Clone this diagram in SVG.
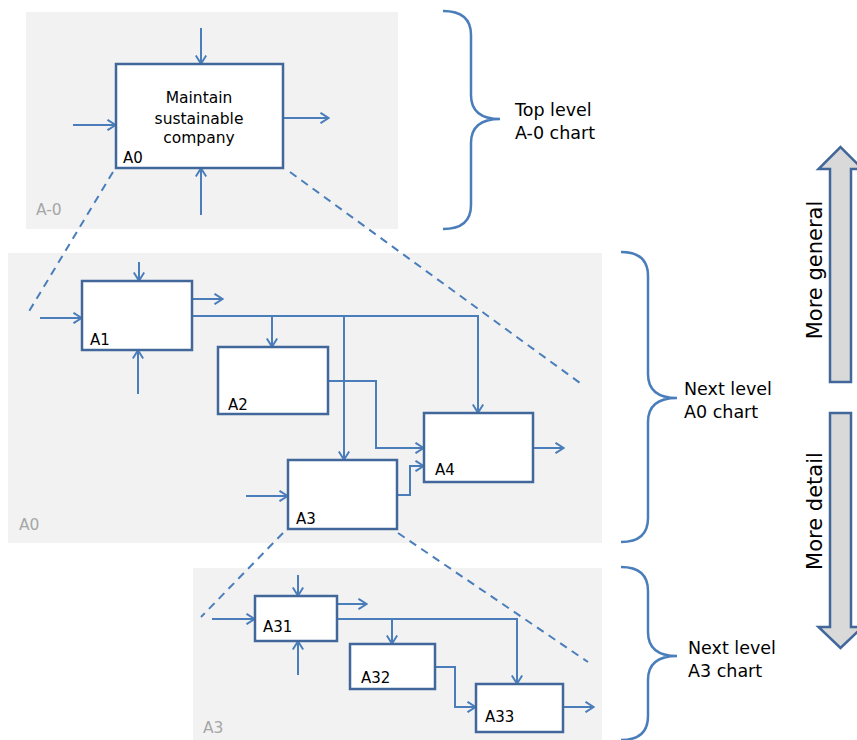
<svg xmlns="http://www.w3.org/2000/svg" width="857" height="740" viewBox="0 0 857 740">
  <style>
    .panel { fill: #f2f2f2; }
    .box { fill: #ffffff; stroke: #41679b; stroke-width: 2.5; }
    .conn { fill: none; stroke: #4a7ebb; stroke-width: 2; }
    .arr { marker-end: url(#head); }
    .dash { fill: none; stroke: #4a7ebb; stroke-width: 2; stroke-dasharray: 8 6; }
    .brace { fill: none; stroke: #4a7ebb; stroke-width: 2.5; }
    .lbl { font-family: "DejaVu Sans", Verdana, sans-serif; font-size: 15px; fill: #000000; }
    .title { font-family: "DejaVu Sans", Verdana, sans-serif; font-size: 15.5px; fill: #000000; text-anchor: middle; }
    .plbl { font-family: "DejaVu Sans", Verdana, sans-serif; font-size: 15.5px; fill: #a6a6a6; }
    .side { font-family: "DejaVu Sans", Verdana, sans-serif; font-size: 17.5px; fill: #000000; }
    .vert { font-family: "DejaVu Sans", Verdana, sans-serif; font-size: 21px; fill: #000000; text-anchor: middle; }
    .bigarrow { fill: #d9d9d9; stroke: #41679b; stroke-width: 2.5; stroke-linejoin: miter; }
  </style>
  <defs>
    <marker id="head" viewBox="0 0 10 12" refX="9.5" refY="6" markerWidth="10" markerHeight="12" markerUnits="userSpaceOnUse" orient="auto">
      <path d="M1,0.8 L9.2,6 L1,11.2" fill="none" stroke="#4a7ebb" stroke-width="2"/>
    </marker>
  </defs>

  <!-- background panels for each level -->
  <g id="panels">
    <rect class="panel" x="26" y="12" width="372" height="217"/>
    <rect class="panel" x="8" y="253" width="594" height="290"/>
    <rect class="panel" x="193" y="568" width="409" height="172"/>
    <text class="plbl" x="36" y="215">A-0</text>
    <text class="plbl" x="19" y="530">A0</text>
    <text class="plbl" x="203" y="733">A3</text>
  </g>

  <!-- decomposition guide lines -->
  <g id="guides">
    <path class="dash" d="M113,172 L28,313"/>
    <path class="dash" d="M290,172 L580,383"/>
    <path class="dash" d="M283,533 L201,617"/>
    <path class="dash" d="M398,533 L588,662"/>
  </g>

  <!-- connectors -->
  <g id="connectors">
    <!-- A-0 level -->
    <path class="conn arr" d="M201,28 V64"/>
    <path class="conn arr" d="M73,125 H116"/>
    <path class="conn arr" d="M283,118 H329"/>
    <path class="conn arr" d="M201,215 V168"/>
    <!-- A0 level -->
    <path class="conn arr" d="M139,262 V281"/>
    <path class="conn arr" d="M40,318 H82"/>
    <path class="conn arr" d="M192,299 H223"/>
    <path class="conn arr" d="M138,394 V350"/>
    <path class="conn arr" d="M192,316 H478 V413"/>
    <path class="conn arr" d="M272,316 V347"/>
    <path class="conn arr" d="M344,316 V460"/>
    <path class="conn arr" d="M328,381 H376 V448 H424"/>
    <path class="conn arr" d="M533,448 H564"/>
    <path class="conn arr" d="M246,496 H288"/>
    <path class="conn arr" d="M397,495 H410 V466 H424"/>
    <!-- A3 level -->
    <path class="conn arr" d="M298,575 V596"/>
    <path class="conn arr" d="M212,619 H255"/>
    <path class="conn arr" d="M337,604 H367"/>
    <path class="conn arr" d="M298,675 V641"/>
    <path class="conn arr" d="M337,619 H517 V684"/>
    <path class="conn arr" d="M392,619 V644"/>
    <path class="conn arr" d="M435,667 H455 V707 H476"/>
    <path class="conn arr" d="M563,707 H594"/>
  </g>

  <!-- activity boxes -->
  <g id="A0">
    <rect class="box" x="116" y="64" width="167" height="104"/>
    <text class="title" x="199" y="103">Maintain</text>
    <text class="title" x="199" y="123.5">sustainable</text>
    <text class="title" x="199" y="143">company</text>
    <text class="lbl" x="123" y="163">A0</text>
  </g>
  <g id="A1">
    <rect class="box" x="82" y="281" width="110" height="69"/>
    <text class="lbl" x="90" y="345">A1</text>
  </g>
  <g id="A2">
    <rect class="box" x="218" y="347" width="110" height="67"/>
    <text class="lbl" x="228" y="410">A2</text>
  </g>
  <g id="A3">
    <rect class="box" x="288" y="460" width="109" height="69"/>
    <text class="lbl" x="296" y="524">A3</text>
  </g>
  <g id="A4">
    <rect class="box" x="424" y="413" width="109" height="69"/>
    <text class="lbl" x="435" y="475">A4</text>
  </g>
  <g id="A31">
    <rect class="box" x="255" y="596" width="82" height="45"/>
    <text class="lbl" x="263" y="632">A31</text>
  </g>
  <g id="A32">
    <rect class="box" x="350" y="644" width="85" height="45"/>
    <text class="lbl" x="361" y="683">A32</text>
  </g>
  <g id="A33">
    <rect class="box" x="476" y="684" width="87" height="48"/>
    <text class="lbl" x="485" y="722">A33</text>
  </g>

  <!-- level braces and captions -->
  <g id="level-top">
    <path class="brace" d="M443,11 Q471,11 471,35 V95 Q471,119 500,119 Q471,119 471,143 V205 Q471,229 443,229"/>
    <text class="side" x="515" y="116">Top level</text>
    <text class="side" x="515" y="139">A-0 chart</text>
  </g>
  <g id="level-a0">
    <path class="brace" d="M621,252 Q648,252 648,276 V374 Q648,398 677,398 Q648,398 648,422 V518 Q648,542 621,542"/>
    <text class="side" x="684" y="395">Next level</text>
    <text class="side" x="684" y="418">A0 chart</text>
  </g>
  <g id="level-a3">
    <path class="brace" d="M621,567 Q648,567 648,591 V632 Q648,656 677,656 Q648,656 648,680 V716 Q648,740 621,740"/>
    <text class="side" x="688" y="654">Next level</text>
    <text class="side" x="688" y="677">A3 chart</text>
  </g>

  <!-- direction arrows -->
  <g id="more-general">
    <path class="bigarrow" d="M830,382 V169 H818.5 L840.5,147 L862.5,169 H851 V382 Z"/>
    <text class="vert" transform="translate(822,270) rotate(-90)">More general</text>
  </g>
  <g id="more-detail">
    <path class="bigarrow" d="M830,413 V627 H818.5 L840.5,648 L862.5,627 H851 V413 Z"/>
    <text class="vert" transform="translate(822,511) rotate(-90)">More detail</text>
  </g>
</svg>
